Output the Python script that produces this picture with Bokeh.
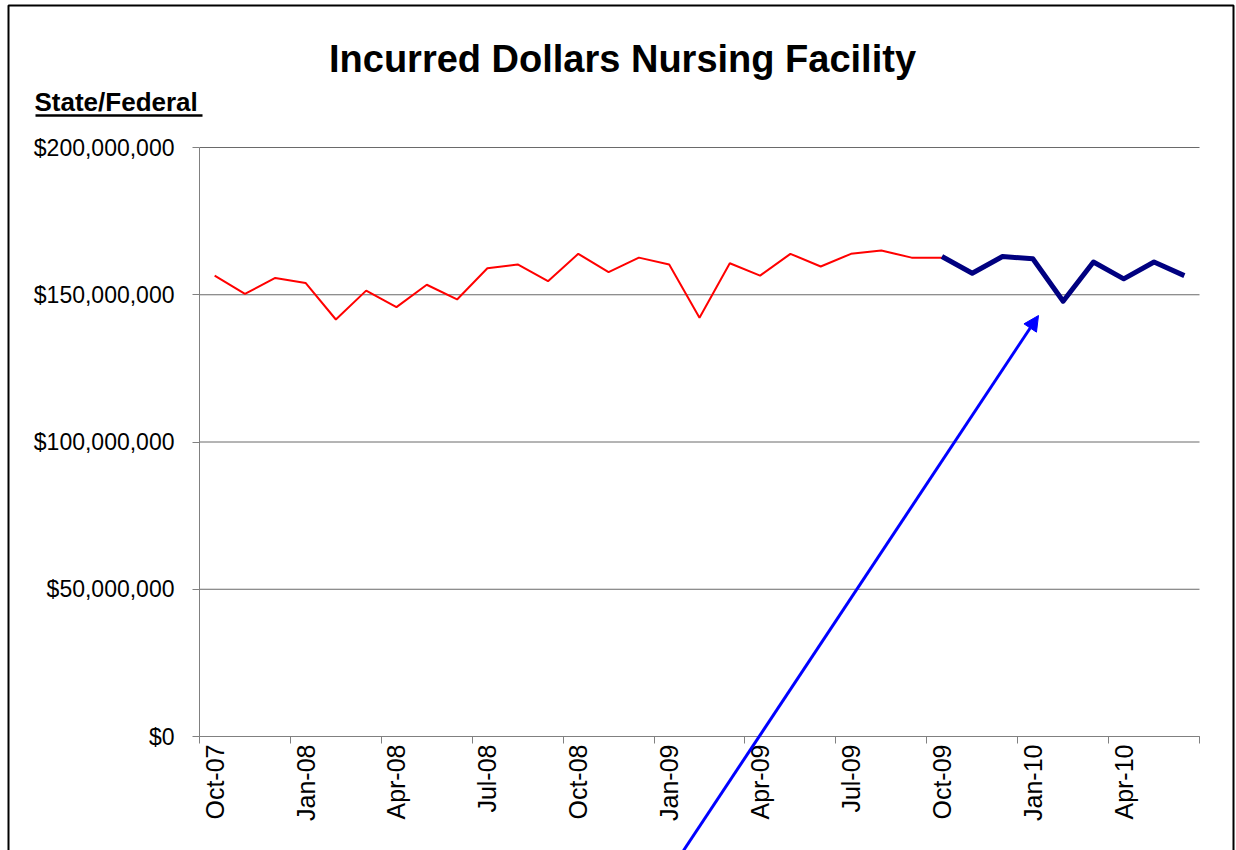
import math
from bokeh.plotting import figure
from bokeh.models import (FixedTicker, NumeralTickFormatter, Label, Arrow, NormalHead, Range1d,
                          LinearAxis, BoxAnnotation)
from bokeh.embed import file_html
from bokeh.resources import INLINE

months = ["Oct-07", "Nov-07", "Dec-07", "Jan-08", "Feb-08", "Mar-08", "Apr-08", "May-08", "Jun-08",
          "Jul-08", "Aug-08", "Sep-08", "Oct-08", "Nov-08", "Dec-08", "Jan-09", "Feb-09", "Mar-09",
          "Apr-09", "May-09", "Jun-09", "Jul-09", "Aug-09", "Sep-09", "Oct-09", "Nov-09", "Dec-09",
          "Jan-10", "Feb-10", "Mar-10", "Apr-10", "May-10", "Jun-10"]

# Actual incurred dollars (red), Oct-07 .. Oct-09, in $ millions
actual = [156.5, 150.3, 155.7, 154.0, 141.6, 151.4, 145.8, 153.4, 148.4, 159.0, 160.3, 154.6,
          163.9, 157.7, 162.6, 160.3, 142.2, 160.7, 156.5, 163.9, 159.6, 163.9, 165.0, 162.6, 162.6]
# Projected (navy), Oct-09 .. Jun-10, in $ millions
projected = [163.0, 157.3, 163.0, 162.2, 147.8, 161.1, 155.4, 161.1, 156.5]

y_ticks = [0, 50_000_000, 100_000_000, 150_000_000, 200_000_000]

n = len(months)
x_actual = list(range(len(actual)))
x_proj = list(range(len(actual) - 1, len(actual) - 1 + len(projected)))

FONT = "Liberation Sans"
W, H = 1236, 850
# plot-area geometry in pixels (frame covers whole canvas; axes are fixed inside)
PL, PR, PT, PB = 199, 1199, 147, 736
sx = (PR - PL) / n                 # px per category
sy = (PB - PT) / y_ticks[-1]       # px per dollar

def fx(px):
    return -0.5 + (px - PL) / sx

def fy(py):
    return (PB - py) / sy

p = figure(width=W, height=H, output_backend="svg", toolbar_location=None,
           x_range=Range1d(fx(0), fx(W)), y_range=Range1d(fy(H), fy(0)),
           x_axis_location=None, y_axis_location=None,
           min_border=0, min_border_left=0, min_border_right=0,
           min_border_top=0, min_border_bottom=0)
p.outline_line_color = None
p.background_fill_color = "white"
p.border_fill_color = "white"
p.xgrid.visible = False
p.ygrid.visible = False

# horizontal gridlines across the plot area
p.segment(x0=[-0.5] * len(y_ticks), x1=[n - 0.5] * len(y_ticks), y0=y_ticks, y1=y_ticks,
          line_color="#6a6a6a", line_width=1)

p.line(x_actual, [v * 1e6 for v in actual], line_color="#FF0000", line_width=2)
p.line(x_proj, [v * 1e6 for v in projected], line_color="#000080", line_width=5,
       line_join="round")

# X axis (category-style: labels at centres, ticks at boundaries)
label_ticks = list(range(0, n, 3))
xaxis = LinearAxis(fixed_location=0, bounds=(-0.5, n - 0.5))
xaxis.ticker = FixedTicker(ticks=label_ticks, minor_ticks=[t - 0.5 for t in range(0, n + 1, 3)])
xaxis.major_label_overrides = {t: months[t] for t in label_ticks}
xaxis.major_label_orientation = math.pi / 2
xaxis.major_tick_line_color = None
xaxis.major_tick_out = 7
xaxis.major_tick_in = 0
xaxis.minor_tick_line_color = "#808080"
xaxis.minor_tick_out = 7
xaxis.minor_tick_in = 0
xaxis.axis_line_color = "#808080"
xaxis.major_label_text_font = FONT
xaxis.major_label_text_font_size = "25px"
xaxis.major_label_text_color = "black"
xaxis.major_label_standoff = 1
p.add_layout(xaxis, "below")

yaxis = LinearAxis(fixed_location=-0.5, bounds=(0, y_ticks[-1]))
yaxis.ticker = FixedTicker(ticks=y_ticks)
yaxis.formatter = NumeralTickFormatter(format="$0,0")
yaxis.minor_tick_line_color = None
yaxis.major_tick_out = 7
yaxis.major_tick_in = 0
yaxis.major_tick_line_color = "#808080"
yaxis.axis_line_color = "#808080"
yaxis.major_label_text_font = FONT
yaxis.major_label_text_font_size = "23px"
yaxis.major_label_text_color = "black"
yaxis.major_label_standoff = 18
p.add_layout(yaxis, "left")

# Title and sub-label
p.add_layout(Label(x=fx(622), y=fy(58), text="Incurred Dollars Nursing Facility",
                   text_font=FONT, text_font_size="38px", text_font_style="bold",
                   text_align="center", text_baseline="middle", text_color="black"))
p.add_layout(Label(x=fx(34), y=fy(101), text="State/Federal",
                   text_font=FONT, text_font_size="26px", text_font_style="bold",
                   text_align="left", text_baseline="middle", text_color="black"))
p.add_layout(Arrow(x_start=fx(35), y_start=fy(115), x_end=fx(202), y_end=fy(115),
                   start=None, end=None, line_color="black", line_width=2.5))

# Outer chart border (bottom edge falls below the visible page)
p.add_layout(BoxAnnotation(left=fx(8), right=fx(1233), top=fy(5), bottom=fy(H + 20),
                           fill_color=None, fill_alpha=0, line_color="black", line_width=2,
                           line_alpha=1))

# Blue pointer arrow
p.add_layout(Arrow(x_start=fx(683), y_start=fy(850), x_end=fx(1038), y_end=fy(315),
                   end=NormalHead(size=15, fill_color="#0000FF", line_color="#0000FF"),
                   line_color="#0000FF", line_width=3))

open("out.html", "w").write(file_html(p, INLINE))
